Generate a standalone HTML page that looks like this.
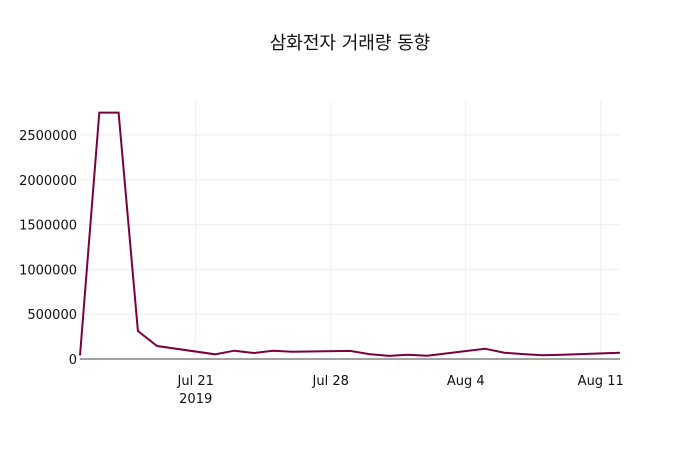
<!DOCTYPE html>
<html><head><meta charset="utf-8"><style>body{margin:0;background:#fff}svg{font-family:"DejaVu Sans","Noto Sans CJK KR",sans-serif}</style></head>
<body>
<svg id="chart" width="700" height="450" xmlns="http://www.w3.org/2000/svg">
<text x="350" y="49" text-anchor="middle" font-size="18" fill="#111">삼화전자 거래량 동향</text>
<g id="grid"></g><g id="yt"></g><g id="xt"></g><g id="series"></g>
</svg>
<script>
const dates=["2019-07-15","2019-07-16","2019-07-17","2019-07-18","2019-07-19","2019-07-22","2019-07-23","2019-07-24","2019-07-25","2019-07-26","2019-07-29","2019-07-30","2019-07-31","2019-08-01","2019-08-02","2019-08-05","2019-08-06","2019-08-07","2019-08-08","2019-08-09","2019-08-12"];
const volumes=[40000,2750000,2750000,312000,145000,52000,93000,67000,93000,80000,90000,55000,35000,48000,37000,115000,70000,55000,42000,47000,70000];
const yTicks=[0,500000,1000000,1500000,2000000,2500000];
const xTickDates=["2019-07-21","2019-07-28","2019-08-04","2019-08-11"];
const xTickLabels=["Jul 21","Jul 28","Aug 4","Aug 11"];
const NS="http://www.w3.org/2000/svg";
const L=80,R=620,T=100,B=359;
const d0=Date.parse("2019-07-15"),d1=Date.parse("2019-08-12");
const xs=d=>L+(Date.parse(d)-d0)/(d1-d0)*(R-L);
const ys=v=>B-v/500000*44.8;
function mk(t,a,p){const e=document.createElementNS(NS,t);for(const k in a)e.setAttribute(k,a[k]);p.appendChild(e);return e;}
const g=document.getElementById('grid'),yt=document.getElementById('yt'),xt=document.getElementById('xt'),s=document.getElementById('series');
yTicks.forEach(v=>{
 if(v>0){const l=mk('line',{x1:L,x2:R,y1:ys(v),y2:ys(v),stroke:'#eee'},g);
 
 }
 const t=mk('text',{x:L-3,y:ys(v)+5,'text-anchor':'end','font-size':13,fill:'#111'},yt);t.textContent=v;
 
 
});
xTickDates.forEach((d,i)=>{
 const x=xs(d);
 const l=mk('line',{x1:x,x2:x,y1:T,y2:B,stroke:'#eee'},g);
 
 
 const t=mk('text',{x:x,y:385,'text-anchor':'middle','font-size':13,fill:'#111'},xt);t.textContent=xTickLabels[i];
 
 
 if(i==0){const y=mk('text',{x:x,y:403,'text-anchor':'middle','font-size':13,fill:'#111'},xt);y.textContent='2019';
 
 }
});
const ax=mk('line',{x1:L,x2:R,y1:B,y2:B,stroke:'#444','stroke-width':1},g);


const p=mk('path',{d:dates.map((d,i)=>(i?'L':'M')+xs(d).toFixed(1)+','+ys(volumes[i]).toFixed(1)).join(''),fill:'none',stroke:'#7b0041','stroke-width':2},s);


</script>
</body></html>
